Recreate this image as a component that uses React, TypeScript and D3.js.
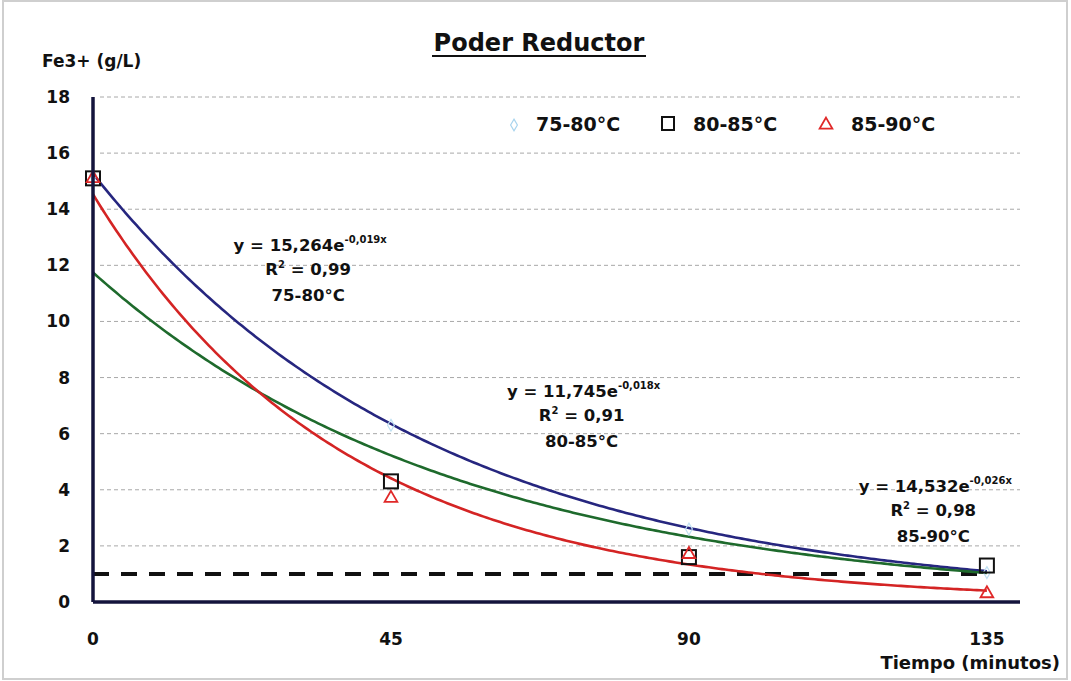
import React from "react";
import * as d3 from "d3";

const W = 1071;
const H = 681;

const times = [0, 45, 90, 135];
const s7580 = [15.2, 6.3, 2.6, 1.05];
const s8085 = [15.1, 4.3, 1.6, 1.3];
const s8590 = [15.1, 3.7, 1.7, 0.3];

const fits = [
  { a: 15.264, k: 0.0195, color: "#26267f" },
  { a: 11.745, k: 0.018, color: "#1e6a2c" },
  { a: 14.532, k: 0.0265, color: "#d42424" },
];

const yTicks = [0, 2, 4, 6, 8, 10, 12, 14, 16, 18];
const xTicks = [0, 45, 90, 135];
const threshold = 1;

const eqLabels = [
  { x: 32.8, y: 12.5, a: "15,264", k: "-0,019x", r2: "0,99", t: "75-80°C" },
  { x: 74.1, y: 7.3, a: "11,745", k: "-0,018x", r2: "0,91", t: "80-85°C" },
  { x: 127.2, y: 3.92, a: "14,532", k: "-0,026x", r2: "0,98", t: "85-90°C" },
];

const FONT = "DejaVu Sans, Verdana, sans-serif";

export default function App() {
  const x = d3.scaleLinear().domain([0, 140]).range([93, 1020]);
  const y = d3.scaleLinear().domain([0, 18]).range([602, 97]);
  const xs = d3.range(0, 135.01, 0.5);
  const line = d3
    .line<number>()
    .x((d) => x(d))
    .curve(d3.curveLinear);

  const sq = 14;
  const tri = d3.symbol(d3.symbolTriangle, 70)();
  const dia = d3.symbol(d3.symbolDiamond, 40)();

  return (
    <div style={{ position: "fixed", left: 0, top: 0 }}>
      <svg width={W} height={H} style={{ display: "block", background: "#fff" }}>
        <rect x={3} y={1} width={W - 7} height={H - 3} fill="none" stroke="#cfcfcf" strokeWidth={2} />
        {/* title */}
        <text x={539} y={51} textAnchor="middle" fontFamily={FONT} fontWeight="bold" fontSize={24} fill="#111">
          Poder Reductor
        </text>
        <line x1={432} x2={646} y1={56} y2={56} stroke="#111" strokeWidth={2} />
        <text x={42} y={67} fontFamily={FONT} fontWeight="bold" fontSize={17} fill="#111">
          Fe3+ (g/L)
        </text>

        {/* gridlines */}
        {yTicks.filter((t) => t > 0).map((t) => (
          <line key={t} x1={100} x2={1020} y1={y(t)} y2={y(t)} stroke="#a8a8a8" strokeWidth={1} strokeDasharray="4 3" />
        ))}

        {/* y tick labels */}
        {yTicks.map((t) => (
          <text key={t} x={70} y={y(t) + 6} textAnchor="end" fontFamily={FONT} fontWeight="bold" fontSize={17} fill="#111">
            {t}
          </text>
        ))}
        {xTicks.map((t) => (
          <text key={t} x={x(t)} y={645} textAnchor="middle" fontFamily={FONT} fontWeight="bold" fontSize={17} fill="#111">
            {t}
          </text>
        ))}
        <text x={1060} y={669} textAnchor="end" fontFamily={FONT} fontWeight="bold" fontSize={18} fill="#111">
          Tiempo (minutos)
        </text>

        {/* threshold dashed line */}
        <line x1={x(0)} x2={x(135)} y1={y(threshold)} y2={y(threshold)} stroke="#111" strokeWidth={4} strokeDasharray="16 12" />

        {/* fit curves */}
        {fits.map((f, i) => (
          <path
            key={i}
            d={line.y((t) => y(f.a * Math.exp(-f.k * t)))(xs) || ""}
            fill="none"
            stroke={f.color}
            strokeWidth={2.6}
          />
        ))}

        {/* markers */}
        {times.map((t, i) => (
          <path key={"d" + i} d={dia || ""} transform={`translate(${x(t)},${y(s7580[i])})`} fill="none" stroke="#bfe0f2" strokeWidth={1.2} />
        ))}
        {times.map((t, i) => (
          <rect key={"s" + i} x={x(t) - sq / 2} y={y(s8085[i]) - sq / 2} width={sq} height={sq} fill="none" stroke="#111" strokeWidth={2} />
        ))}
        {times.map((t, i) => (
          <path key={"t" + i} d={tri || ""} transform={`translate(${x(t)},${y(s8590[i])})`} fill="none" stroke="#e02828" strokeWidth={1.8} />
        ))}

        {/* axes */}
        <line x1={x(0)} x2={x(0)} y1={y(0)} y2={y(18)} stroke="#14143c" strokeWidth={3.5} />
        <line x1={x(0)} x2={x(140)} y1={y(0)} y2={y(0)} stroke="#14143c" strokeWidth={3.5} />

        {/* equations */}
        {eqLabels.map((e, i) => {
          const cx = x(e.x);
          const cy = y(e.y);
          return (
            <g key={i} fontFamily={FONT} fontWeight="bold" fill="#111">
              <text x={cx} y={cy} textAnchor="middle" fontSize={16.5}>
                {"y = " + e.a + "e"}
                <tspan fontSize={10} dy={-8}>{e.k}</tspan>
              </text>
              <text x={cx - 2} y={cy + 24} textAnchor="middle" fontSize={16.5}>
                R<tspan fontSize={10} dy={-7}>2</tspan>
                <tspan dy={7}>{" = " + e.r2}</tspan>
              </text>
              <text x={cx - 2} y={cy + 50} textAnchor="middle" fontSize={16.5}>
                {e.t}
              </text>
            </g>
          );
        })}

        {/* legend */}
        <g fontFamily={FONT} fontWeight="bold" fontSize={19} fill="#111">
          <path d={dia || ""} transform="translate(514,125)" fill="none" stroke="#a8d4ee" strokeWidth={1.2} />
          <text x={536} y={131}>75-80°C</text>
          <rect x={662} y={117} width={12} height={13} fill="none" stroke="#111" strokeWidth={2} />
          <text x={693} y={131}>80-85°C</text>
          <path d={tri || ""} transform="translate(826,125)" fill="none" stroke="#e02828" strokeWidth={1.8} />
          <text x={851} y={131}>85-90°C</text>
        </g>
      </svg>
    </div>
  );
}
